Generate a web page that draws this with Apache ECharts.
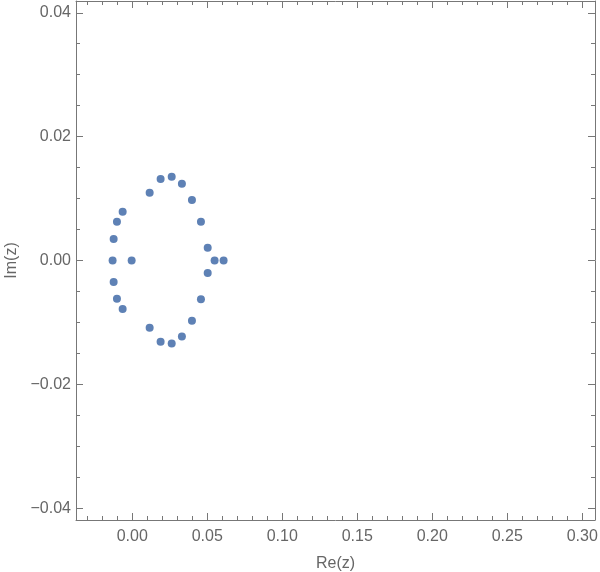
<!DOCTYPE html>
<html>
<head>
<meta charset="utf-8">
<script src="https://cdn.jsdelivr.net/npm/echarts@6/dist/echarts.min.js"></script>
<style>html,body{margin:0;padding:0;background:#fff}#c{width:600px;height:572px}</style>
</head>
<body>
<div id="c"></div>
<script>
// Data: roots in the complex plane
const reVals = [0.0189, 0.0263, 0.0331, 0.0116, 0.0398, -0.0064, -0.0102, 0.0458, -0.0124, 0.0503, -0.0131, -0.0004, 0.0549, 0.0609,
                0.0503, -0.0124, -0.0102, 0.0458, -0.0064, 0.0398, 0.0116, 0.0331, 0.0189, 0.0263];
const imVals = [0.01315, 0.01352, 0.01239, 0.01094, 0.00976, 0.00787, 0.00626, 0.00626, 0.00347, 0.00206, 0, 0, 0, 0,
                -0.00202, -0.00347, -0.00616, -0.00626, -0.00782, -0.00971, -0.01084, -0.01229, -0.0131, -0.01342];
const xTicks = [0, 0.05, 0.10, 0.15, 0.20, 0.25, 0.30];
const yTicks = [-0.04, -0.02, 0, 0.02, 0.04];
const xMinorTicks = [-0.03, -0.02, -0.01, 0.01, 0.02, 0.03, 0.04, 0.06, 0.07, 0.08, 0.09, 0.11, 0.12, 0.13, 0.14,
                     0.16, 0.17, 0.18, 0.19, 0.21, 0.22, 0.23, 0.24, 0.26, 0.27, 0.28, 0.29];
const yMinorTicks = [-0.035, -0.03, -0.025, -0.015, -0.01, -0.005, 0.005, 0.01, 0.015, 0.025, 0.03, 0.035];
const xRange = [-0.0375, 0.3085];
const yRange = [-0.0419, 0.0419];

const frameColor = '#777';
const textColor = '#666';
const fontFamily = 'Liberation Sans, Arial, sans-serif';
const fmt = v => (Math.abs(v) < 1e-12 ? 0 : v).toFixed(2).replace('-', '\u2212');

function xAx(pos, ticks, len, labels, withLine, name) {
  return {
    type: 'value', position: pos, min: xRange[0], max: xRange[1], offset: 0,
    name: name || '', nameLocation: 'middle', nameGap: 36,
    nameTextStyle: {color: textColor, fontSize: 16, fontFamily},
    axisLine: {show: withLine, onZero: false, lineStyle: {color: frameColor, width: 1}},
    axisTick: {show: true, inside: true, length: len, customValues: ticks, lineStyle: {color: frameColor}},
    axisLabel: {show: labels, customValues: ticks, formatter: fmt, color: textColor, fontSize: 16, fontFamily, margin: 9},
    splitLine: {show: false}
  };
}
function yAx(pos, ticks, len, labels, withLine, name) {
  return {
    type: 'value', position: pos, min: yRange[0], max: yRange[1], offset: 0,
    name: name || '', nameLocation: 'middle', nameGap: 56, nameRotate: 90,
    nameTextStyle: {color: textColor, fontSize: 16, fontFamily},
    axisLine: {show: withLine, onZero: false, lineStyle: {color: frameColor, width: 1}},
    axisTick: {show: true, inside: true, length: len, customValues: ticks, lineStyle: {color: frameColor}},
    axisLabel: {show: labels, customValues: ticks, formatter: fmt, color: textColor, fontSize: 16, fontFamily, margin: 5},
    splitLine: {show: false}
  };
}

const chart = echarts.init(document.getElementById('c'), null, {renderer: 'canvas'});
chart.setOption({
  animation: false,
  backgroundColor: '#fff',
  grid: {left: 76, right: 5, top: 1, bottom: 52, containLabel: false, outerBoundsMode: 'none'},
  xAxis: [
    xAx('bottom', xTicks, 7, true, true, 'Re(z)'),
    xAx('bottom', xMinorTicks, 4, false, false),
    xAx('top', xTicks, 7, false, true),
    xAx('top', xMinorTicks, 4, false, false)
  ],
  yAxis: [
    yAx('left', yTicks, 7, true, true, 'Im(z)'),
    yAx('left', yMinorTicks, 4, false, false),
    yAx('right', yTicks, 7, false, true),
    yAx('right', yMinorTicks, 4, false, false)
  ],
  series: [{
    type: 'scatter', xAxisIndex: 0, yAxisIndex: 0,
    symbol: 'circle', symbolSize: 8,
    itemStyle: {color: '#5E81B5', opacity: 1},
    data: reVals.map((x, i) => [x, imVals[i]])
  }]
});
</script>
</body>
</html>
